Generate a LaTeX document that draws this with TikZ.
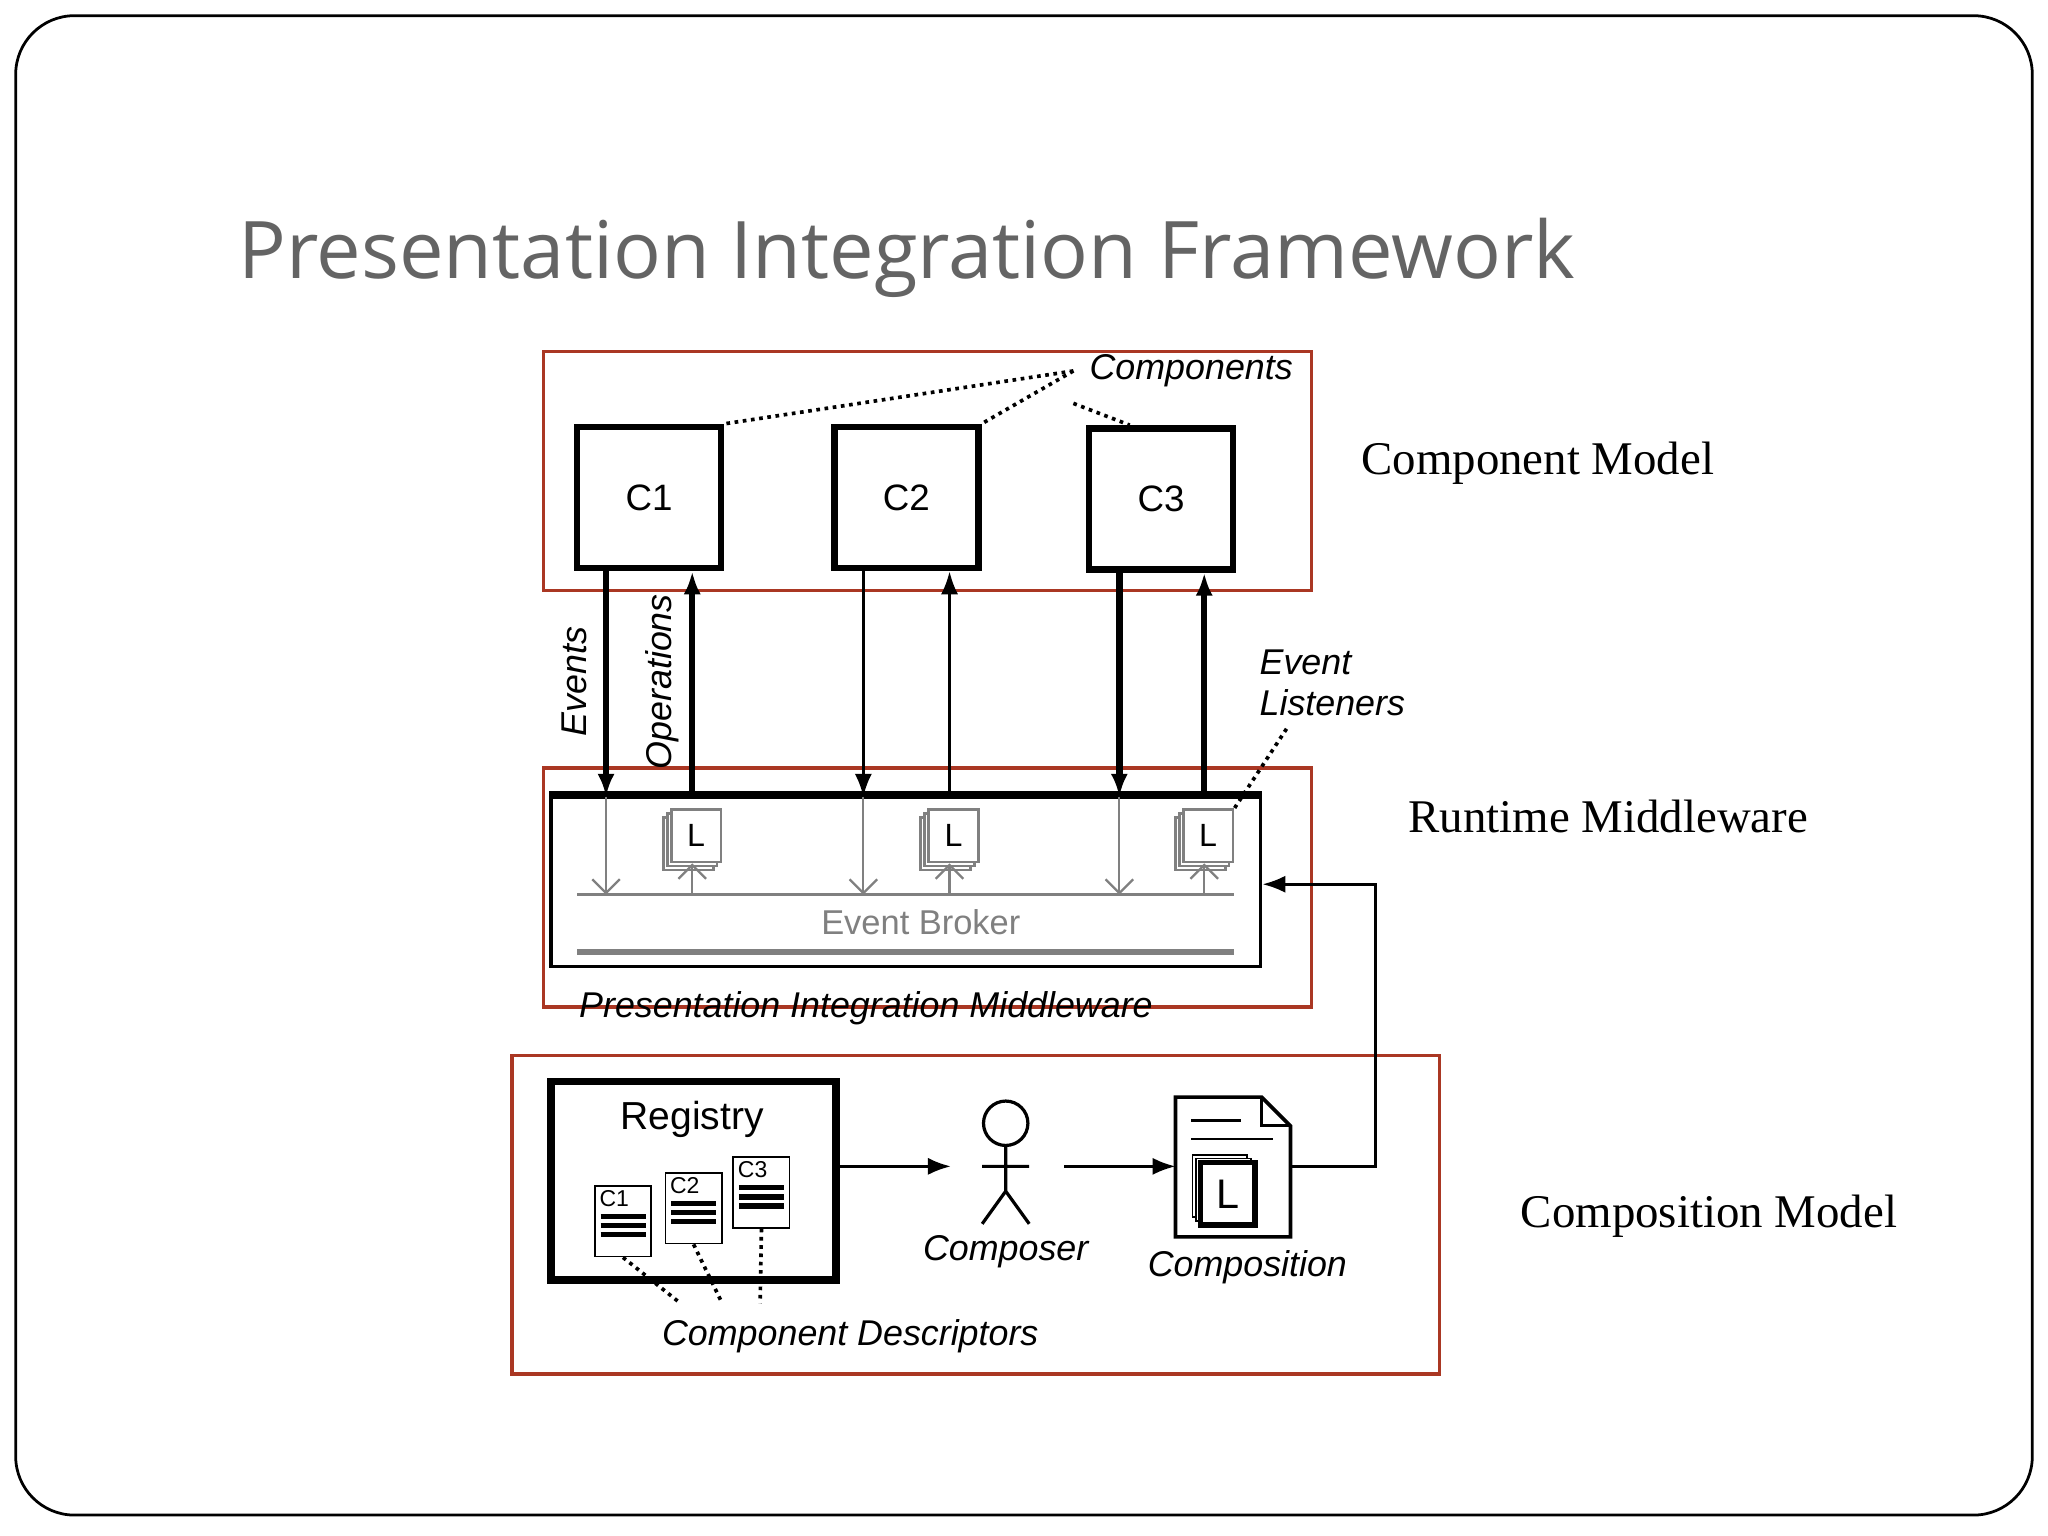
\documentclass[tikz,border=0pt]{standalone}
\usepackage{fontspec}
\setmainfont{Liberation Serif}
\newfontfamily\sansf{Liberation Sans}
\newfontfamily\titlef{Open Sans}
\usetikzlibrary{arrows.meta}
\definecolor{redbox}{RGB}{170,55,35}
\definecolor{titlegray}{RGB}{100,100,100}
\begin{document}
\begin{tikzpicture}[x=0.01cm,y=-0.01cm,
  redframe/.style={draw=redbox, line width=0.8pt},
  comp/.style={draw, line width=1.4pt, minimum width=1.1cm, minimum height=1.08cm, inner sep=0, font=\sansf\footnotesize},
  lab/.style={font=\sansf\itshape\fontsize{7.8}{9}\selectfont},
  side/.style={font=\fontsize{10.2}{12}\selectfont, anchor=west},
  dots/.style={densely dotted, line width=0.8pt},
  thick arr/.style={-{Latex[length=5pt]}, line width=1.4pt},
  thin arr/.style={-{Latex[length=5pt]}, line width=0.6pt},
  garr/.style={-{Straight Barb[length=3pt]}, gray, line width=0.5pt},
  lbox/.style={draw=gray, fill=white, line width=0.6pt, minimum width=0.38cm, minimum height=0.4cm, inner sep=0, font=\sansf\scriptsize}]
\useasboundingbox (0,0) rectangle (1568,1176);
\draw[rounded corners=0.45cm, line width=0.6pt] (12,12) rectangle (1556,1160);
\node[anchor=base west, font=\titlef\fontsize{17.3}{20}\selectfont, text=titlegray] (title) at (170,213) {Presentation Integration Framework};

% red frames and side labels
\draw[redframe] (416,269) rectangle (1004,452);
\draw[redframe] (416,588) rectangle (1004,771);
\draw[redframe] (392,808) rectangle (1102,1052);
\node[side] (cm) at (1030,355) {Component Model};
\node[side] (rm) at (1066,625) {Runtime Middleware};
\node[side] (pm) at (1152,931) {Composition Model};

% components
\node[comp] (c1) at (497,381) {C1};
\node[comp] (c2) at (694,381) {C2};
\node[comp] (c3) at (889,382) {C3};
\node[lab] (components) at (912,284) {Components};
\draw[dots] (components.west) -- (c1.north east);
\draw[dots] (components.west) -- (c2.north east);
\draw[dots] (components.south west) -- ([xshift=-0.24cm]c3.north);

% middleware box
\node[draw, line width=0.8pt, minimum width=5.43cm, minimum height=1.3cm, inner sep=0] (mw) at (693.5,675) {};
\draw[line width=1.6pt] (mw.north west) -- (mw.north east);
\coordinate (bl) at (442,685);
\coordinate (br) at (945,685);
\draw[gray, line width=0.6pt] (bl) -- (br);
\draw[gray, line width=1.4pt] (442,729) -- (945,729);
\node[font=\sansf\fontsize{7.5}{9}\selectfont, text=gray] (eb) at (705,706) {Event Broker};
\node[lab] (pim) at (663,772) {Presentation Integration Middleware};

% events and operations
\foreach \n/\dx/\ux/\st in {1/464/530/thick arr, 2/661/727/thin arr, 3/857/922/thick arr}{
  \coordinate (d\n) at (\dx,610);
  \coordinate (u\n) at (\ux,610);
  \coordinate (g\n) at (\ux,685);
  \draw[\st] (c\n.south -| d\n) -- (d\n);
  \draw[\st] (u\n) -- (c\n.south -| u\n);
  \draw[garr] (d\n) -- (\dx,685);
  \node[lbox] (la\n) at (\ux-3,646) {};
  \node[lbox] (lb\n) at (\ux,643) {};
  \node[lbox] (l\n) at (\ux+3,640) {L};
  \draw[garr] (g\n) -- (l\n.south -| g\n);
}
\node[lab, rotate=90] (ev) at (440,522) {Events};
\node[lab, rotate=90] (op) at (507,522) {Operations};
\node[lab, align=left, anchor=west] (el) at (952,523) {Event\\Listeners};
\draw[dots] (985,558) -- (l3.north east);

% composition model
\node[draw, line width=1.6pt, minimum width=2.18cm, minimum height=1.52cm, inner sep=0] (reg) at (531,904) {};
\node[font=\sansf\fontsize{8.5}{10}\selectfont] (regt) at (530,857) {Registry};
\foreach \n/\x/\y in {1/477/935, 2/531/925, 3/583/913}{
  \node[draw, fill=white, minimum width=0.43cm, minimum height=0.54cm, inner sep=0] (doc\n) at (\x,\y) {};
  \node[font=\sansf\tiny, anchor=north west, inner sep=1pt] (dt\n) at (doc\n.north west) {C\n};
  \foreach \k in {0,1,2} \draw[line width=1.2pt] ([xshift=0.05cm,yshift={-0.24cm-\k*0.07cm}]doc\n.north west) -- ([xshift=-0.05cm,yshift={-0.24cm-\k*0.07cm}]doc\n.north east);
}
\node[lab] (cd) at (651,1023) {Component Descriptors};
\draw[dots] (doc1.south) -- ([xshift=-1.3cm]cd.north);
\draw[dots] (doc2.south) -- ([xshift=-0.98cm]cd.north);
\draw[dots] (doc3.south) -- ([xshift=-0.69cm]cd.north);

% composer
\draw[line width=0.7pt] (770,860) circle (17);
\coordinate (hd) at (770,877);
\coordinate (hip) at (770,912);
\draw[line width=0.7pt] (hd) -- (hip) (752,893) -- (788,893) (752,937) -- (hip) -- (788,937);
\coordinate (pl) at (750,893);
\coordinate (pr) at (815,893);
\node[lab] (cp) at (770,958) {Composer};
\draw[thin arr] (reg.east |- pl) -- (728,893);

% composition document
\draw[line width=0.8pt] (900,840) -- (966,840) -- (988,862) -- (988,947) -- (900,947) -- cycle;
\draw[line width=0.6pt] (966,840) -- (966,862) -- (988,862);
\draw[line width=0.6pt] (912,858) -- (950,858) (912,872) -- (975,872);
\coordinate (cleft) at (900,893);
\coordinate (cright) at (988,893);
\node[draw, fill=white, minimum width=0.42cm, minimum height=0.48cm, inner sep=0] (ca) at (934,908) {};
\node[draw, fill=white, minimum width=0.42cm, minimum height=0.48cm, inner sep=0] (cb) at (937,911) {};
\node[draw, fill=white, line width=1.2pt, minimum width=0.42cm, minimum height=0.48cm, inner sep=0, font=\sansf\small] (cc) at (940,914) {L};
\node[lab] (cn) at (955,970) {Composition};
\draw[thin arr] (pr) -- (cleft);
\coordinate (bend) at (1053,677);
\draw[thin arr] (cright) -| (bend) -- (mw.east |- bend);
\end{tikzpicture}
\end{document}
